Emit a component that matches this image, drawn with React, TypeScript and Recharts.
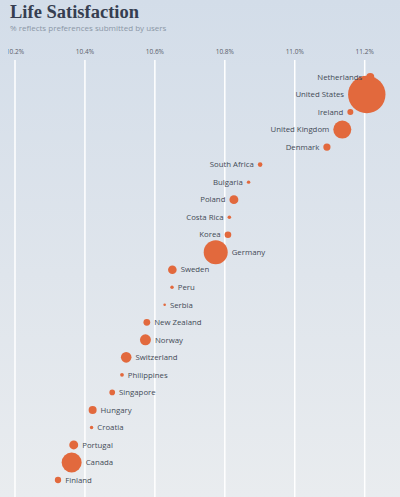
import React from 'react';
import { ScatterChart, Scatter, XAxis, YAxis, ZAxis, CartesianGrid } from 'recharts';

const countries = [
  'Netherlands', 'United States', 'Ireland', 'United Kingdom', 'Denmark',
  'South Africa', 'Bulgaria', 'Poland', 'Costa Rica', 'Korea',
  'Germany', 'Sweden', 'Peru', 'Serbia', 'New Zealand', 'Norway',
  'Switzerland', 'Philippines', 'Singapore', 'Hungary', 'Croatia',
  'Portugal', 'Canada', 'Finland',
];

const satisfaction = [
  11.216, 11.206, 11.159, 11.136, 11.092,
  10.901, 10.868, 10.826, 10.813, 10.809,
  10.774, 10.650, 10.649, 10.628, 10.577, 10.573,
  10.518, 10.506, 10.478, 10.422, 10.419,
  10.368, 10.362, 10.323,
];

const users = [
  16, 350, 9, 81, 13,
  5.3, 3, 20, 3.2, 11,
  144, 18.5, 3, 1.7, 11.5, 30,
  28, 3.5, 8, 16, 3,
  20, 100, 10,
];

const xTicks = [10.2, 10.4, 10.6, 10.8, 11.0, 11.2];

const LEFT_LABEL_COUNT = 10;

const data = countries.map((country, i) => ({
  country,
  value: satisfaction[i],
  users: users[i],
}));

const DOT = '#e2693d';
const FONT = '"Open Sans", "DejaVu Sans", sans-serif';

const Dot = (props: any) => {
  const { cx, cy, size } = props;
  if (cx == null || cy == null) return null;
  const r = Math.sqrt(Math.max(size || 0, 0) / Math.PI);
  return <circle cx={cx} cy={cy} r={r} fill={DOT} />;
};

const Label = (props: any) => {
  const { cx, cy, size, payload } = props;
  if (cx == null || cy == null || !payload) return null;
  const r = Math.sqrt(Math.max(size || 0, 0) / Math.PI);
  const idx = countries.indexOf(payload.country);
  const left = idx < LEFT_LABEL_COUNT;
  return (
    <text
      x={left ? cx - r - 4 : cx + r + 4}
      y={cy}
      dy="0.35em"
      textAnchor={left ? 'end' : 'start'}
      fontSize={7.8}
      fontFamily={FONT}
      fill="#434a56"
    >
      {payload.country}
    </text>
  );
};

const gridX = ({ xAxis }: any) => {
  const s = xAxis && xAxis.scale;
  if (!s) return [];
  return xTicks.map((t) => (typeof s === 'function' ? s(t) : s.map(t)));
};

export default function App() {
  return (
    <div
      style={{
        position: 'absolute',
        left: 0,
        top: 0,
        width: 400,
        height: 497,
        overflow: 'hidden',
        background: 'linear-gradient(to bottom, #d3dde9 0%, #dfe5ec 55%, #e9ecef 100%)',
      }}
    >
      <svg width={400} height={40} style={{ position: 'absolute', left: 0, top: 0 }}>
        <text x={10} y={18.3} fontFamily='"Liberation Serif", serif' fontWeight="bold" fontSize={18.5} fill="#363e50">
          Life Satisfaction
        </text>
        <text x={10} y={30.5} fontFamily={FONT} fontSize={8} fill="#8b97a6">
          % reflects preferences submitted by users
        </text>
      </svg>
      <div style={{ position: 'absolute', left: 8, top: 40 }}>
        <ScatterChart width={392} height={457} margin={{ top: 0, right: 0, bottom: 0, left: 0 }}>
          <CartesianGrid
            horizontal={false}
            stroke="#ffffff"
            strokeWidth={1.5}
            verticalCoordinatesGenerator={gridX}
          />
          <XAxis
            type="number"
            dataKey="value"
            orientation="top"
            domain={[10.18, 11.301]}
            ticks={xTicks}
            interval={0}
            allowDataOverflow
            axisLine={false}
            tickLine={false}
            tickSize={0}
            tickMargin={6}
            height={20}
            tickFormatter={(v: number) => `${v.toFixed(1)}%`}
            tick={{ fontSize: 6.5, fill: '#59606b', fontFamily: FONT }}
          />
          <YAxis
            type="category"
            dataKey="country"
            hide
            reversed
            width={0}
            padding={{ top: 8.24, bottom: 8.24 }}
          />
          <ZAxis type="number" dataKey="users" domain={[0, 350]} range={[0, 1099.6]} />
          <Scatter data={data} shape={<Dot />} isAnimationActive={false} />
          <Scatter data={data} shape={<Label />} isAnimationActive={false} />
        </ScatterChart>
      </div>
    </div>
  );
}
